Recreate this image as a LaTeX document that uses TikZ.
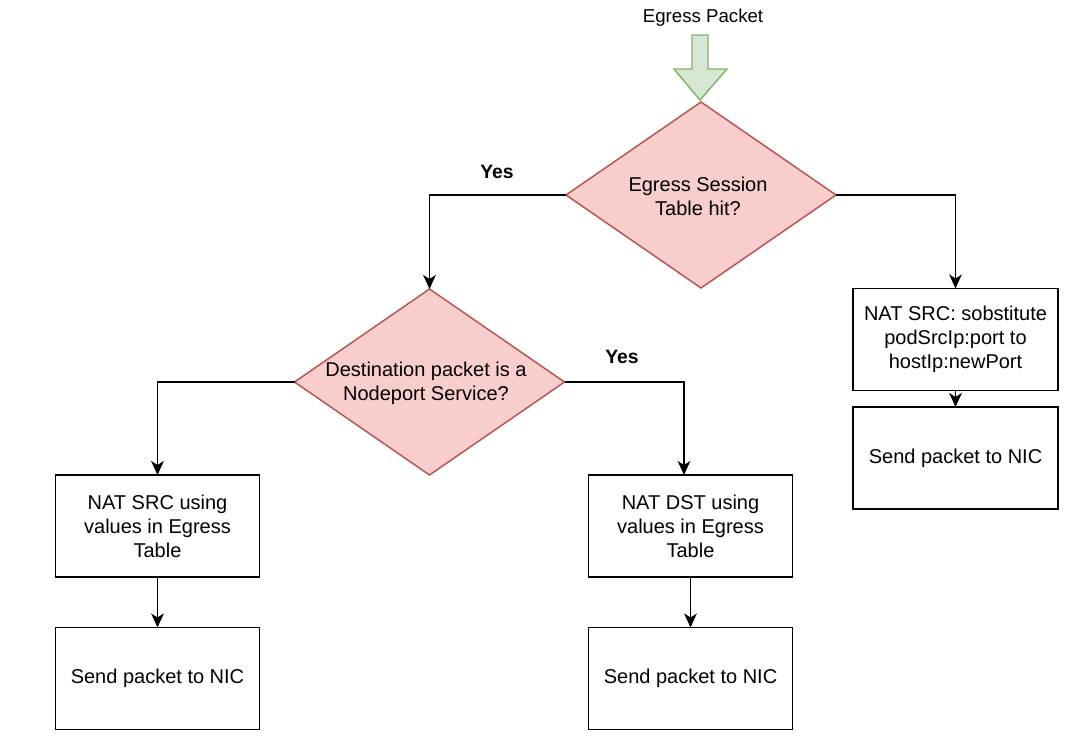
\documentclass[tikz,border=0pt]{standalone}
\usepackage{fontspec}
\setmainfont{Liberation Sans}
\usetikzlibrary{shapes.geometric,arrows.meta,calc}
\definecolor{redfill}{HTML}{F8CECC}
\definecolor{redline}{HTML}{B85450}
\definecolor{greenfill}{HTML}{D5E8D4}
\definecolor{greenline}{HTML}{82B366}
\tikzset{
  dia/.style={shape=diamond, draw=redline, fill=redfill, line width=1.1pt,
    inner sep=0pt, outer sep=0pt, minimum width=270*0.75pt, minimum height=186*0.75pt},
  box/.style={shape=rectangle, draw=black, line width=1.1pt, inner sep=0pt, outer sep=0pt,
    minimum width=204*0.75pt, minimum height=102*0.75pt, align=center},
  txt/.style={align=center, inner sep=0pt},
  conn/.style={line width=1.1pt, -{Stealth[length=10.5pt,width=9.5pt,inset=3pt]}},
  yes/.style={font=\fontsize{14.5}{18}\selectfont\bfseries, inner sep=0pt},
}
\begin{document}
\begin{tikzpicture}[x=0.75pt,y=-0.75pt,font=\fontsize{15}{18}\selectfont]
\useasboundingbox (0,0) rectangle (1092,750);
% green entry arrow
\draw[draw=greenline, fill=greenfill, line width=1.1pt, line join=miter]
  (692,35) -- (708,35) -- (708,69) -- (727,69) -- (700,100) -- (674,69) -- (692,69) -- cycle;
\node[txt, font=\fontsize{14}{18}\selectfont] (ep) at (703,18) {Egress Packet};

% decisions
\node[dia] (d1) at (701,195) {};
\node[txt] (d1t) at (698,196) {Egress Session\\Table hit?};
\node[dia] (d2) at (429.5,382) {};
\node[txt] (d2t) at (426,383) {Destination packet is a\\Nodeport Service?};

% boxes
\node[box] (l1) at (157.5,526) {NAT SRC using\\values in Egress\\Table};
\node[box] (l2) at (157.5,678.5) {Send packet to NIC};
\node[box] (m1) at (690.5,526) {NAT DST using\\values in Egress\\Table};
\node[box] (m2) at (690.5,678.5) {Send packet to NIC};
\node[box, minimum width=205*0.75pt] (r1) at (955.5,339.5) {NAT SRC: sobstitute\\podSrcIp:port to\\hostIp:newPort};
\node[box, minimum width=205*0.75pt] (r2) at (955.5,458) {Send packet to NIC};

% connectors
\draw[conn] (d1.west) -| (d2.north);
\draw[conn] (d1.east) -| (r1.north);
\draw[conn] (d2.west) -| (l1.north);
\coordinate (m1in) at ($(m1.north)+(-6.5,0)$);
\draw[conn] (d2.east) -| (m1in);
\draw[conn] (l1) -- (l2);
\draw[conn] (m1) -- (m2);
\draw[conn] (r1) -- (r2);

% labels
\node[yes] (y1) at (497,172) {Yes};
\node[yes] (y2) at (622,357) {Yes};
\end{tikzpicture}
\end{document}
